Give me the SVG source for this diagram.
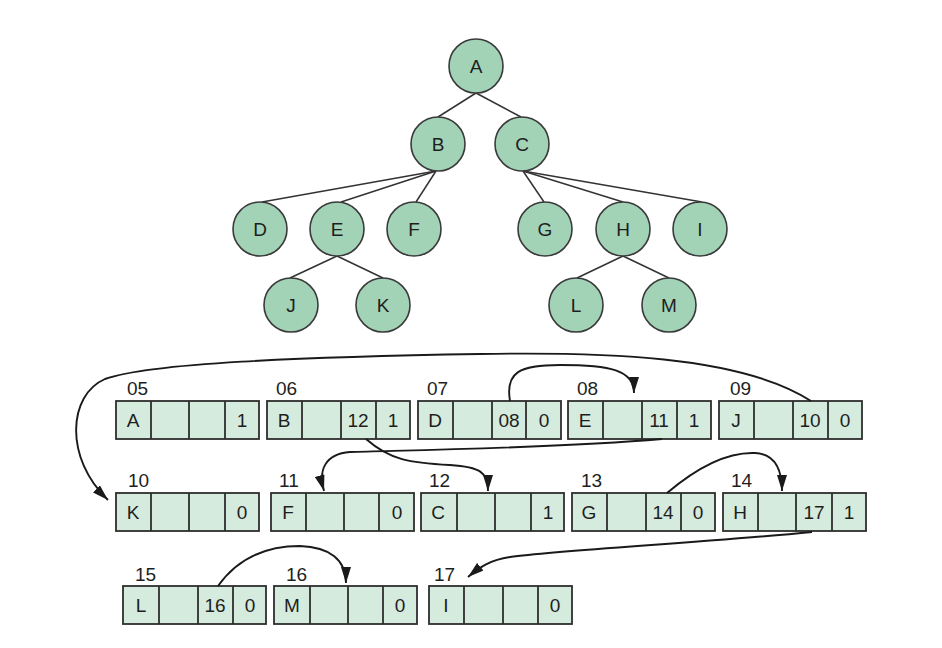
<svg xmlns="http://www.w3.org/2000/svg" width="942" height="648" viewBox="0 0 942 648">
<defs>
<style>
.n circle{fill:#a2d3b7;stroke:#3a3a3a;stroke-width:1.6}
.n text{font-family:"Liberation Sans",Arial,sans-serif;font-size:19px;fill:#1e1e1e;text-anchor:middle}
.r text{font-family:"Liberation Sans",Arial,sans-serif;font-size:19px;fill:#1e1e1e;text-anchor:middle}
.r text.lbl{font-size:19px;text-anchor:start}
.r rect{fill:#d5ebdd;stroke:#2e2e2e;stroke-width:1.8}
.r line{stroke:#2e2e2e;stroke-width:1.8}
.e line{stroke:#333;stroke-width:1.5}
.a path{fill:none;stroke:#1a1a1a;stroke-width:1.9;marker-end:url(#ah)}
</style>
<marker id="ah" viewBox="0 0 16 10" refX="16" refY="5" markerWidth="16" markerHeight="10" markerUnits="userSpaceOnUse" orient="auto">
<path d="M0,0 L16,5 L0,10 Z" fill="#1a1a1a"/>
</marker>
</defs>
<rect width="942" height="648" fill="#fff"/>
<g id="tree-edges" class="e">
<line x1="476" y1="93" x2="438" y2="117"/>
<line x1="476" y1="93" x2="521" y2="117"/>
<line x1="436" y1="171" x2="262" y2="202"/>
<line x1="436" y1="171" x2="341" y2="202"/>
<line x1="436" y1="171" x2="416" y2="202"/>
<line x1="523" y1="171" x2="544" y2="202"/>
<line x1="523" y1="171" x2="623" y2="202"/>
<line x1="523" y1="171" x2="702" y2="202"/>
<line x1="337" y1="256" x2="290" y2="278"/>
<line x1="337" y1="256" x2="383" y2="278"/>
<line x1="623" y1="256" x2="577" y2="278"/>
<line x1="623" y1="256" x2="669" y2="278"/>
</g>
<g id="node-A" class="n"><circle cx="476" cy="66" r="27"/><text x="476" y="73">A</text></g>
<g id="node-B" class="n"><circle cx="438" cy="144" r="27"/><text x="438" y="151">B</text></g>
<g id="node-C" class="n"><circle cx="522" cy="144" r="27"/><text x="522" y="151">C</text></g>
<g id="node-D" class="n"><circle cx="260" cy="229" r="27"/><text x="260" y="236">D</text></g>
<g id="node-E" class="n"><circle cx="337" cy="229" r="27"/><text x="337" y="236">E</text></g>
<g id="node-F" class="n"><circle cx="414" cy="229" r="27"/><text x="414" y="236">F</text></g>
<g id="node-G" class="n"><circle cx="545" cy="229" r="27"/><text x="545" y="236">G</text></g>
<g id="node-H" class="n"><circle cx="623" cy="229" r="27"/><text x="623" y="236">H</text></g>
<g id="node-I" class="n"><circle cx="700" cy="229" r="27"/><text x="700" y="236">I</text></g>
<g id="node-J" class="n"><circle cx="291" cy="305" r="27"/><text x="291" y="312">J</text></g>
<g id="node-K" class="n"><circle cx="383" cy="305" r="27"/><text x="383" y="312">K</text></g>
<g id="node-L" class="n"><circle cx="576" cy="305" r="27"/><text x="576" y="312">L</text></g>
<g id="node-M" class="n"><circle cx="669" cy="305" r="27"/><text x="669" y="312">M</text></g>

<g id="rec-05" class="r" transform="translate(116,401)"><rect width="143" height="38"/><line x1="35" y1="0" x2="35" y2="38"/><line x1="73" y1="0" x2="73" y2="38"/><line x1="109" y1="0" x2="109" y2="38"/><text x="17" y="26">A</text><text x="126" y="26">1</text><text class="lbl" x="11" y="-6">05</text></g>
<g id="rec-06" class="r" transform="translate(267,401)"><rect width="143" height="38"/><line x1="35" y1="0" x2="35" y2="38"/><line x1="74" y1="0" x2="74" y2="38"/><line x1="109" y1="0" x2="109" y2="38"/><text x="17" y="26">B</text><text x="91" y="26">12</text><text x="126" y="26">1</text><text class="lbl" x="9" y="-6">06</text></g>
<g id="rec-07" class="r" transform="translate(418,401)"><rect width="143" height="38"/><line x1="35" y1="0" x2="35" y2="38"/><line x1="74" y1="0" x2="74" y2="38"/><line x1="108" y1="0" x2="108" y2="38"/><text x="17" y="26">D</text><text x="91" y="26">08</text><text x="126" y="26">0</text><text class="lbl" x="9" y="-6">07</text></g>
<g id="rec-08" class="r" transform="translate(568,401)"><rect width="143" height="38"/><line x1="35" y1="0" x2="35" y2="38"/><line x1="74" y1="0" x2="74" y2="38"/><line x1="109" y1="0" x2="109" y2="38"/><text x="17" y="26">E</text><text x="91" y="26">11</text><text x="126" y="26">1</text><text class="lbl" x="9" y="-6">08</text></g>
<g id="rec-09" class="r" transform="translate(719,401)"><rect width="143" height="38"/><line x1="35" y1="0" x2="35" y2="38"/><line x1="74" y1="0" x2="74" y2="38"/><line x1="109" y1="0" x2="109" y2="38"/><text x="17" y="26">J</text><text x="91" y="26">10</text><text x="126" y="26">0</text><text class="lbl" x="11" y="-6">09</text></g>

<g id="rec-10" class="r" transform="translate(116,493)"><rect width="143" height="38"/><line x1="35" y1="0" x2="35" y2="38"/><line x1="73" y1="0" x2="73" y2="38"/><line x1="109" y1="0" x2="109" y2="38"/><text x="17" y="26">K</text><text x="126" y="26">0</text><text class="lbl" x="12" y="-6">10</text></g>
<g id="rec-11" class="r" transform="translate(271,493)"><rect width="143" height="38"/><line x1="35" y1="0" x2="35" y2="38"/><line x1="73" y1="0" x2="73" y2="38"/><line x1="108" y1="0" x2="108" y2="38"/><text x="17" y="26">F</text><text x="126" y="26">0</text><text class="lbl" x="8" y="-6">11</text></g>
<g id="rec-12" class="r" transform="translate(421,493)"><rect width="143" height="38"/><line x1="36" y1="0" x2="36" y2="38"/><line x1="74" y1="0" x2="74" y2="38"/><line x1="110" y1="0" x2="110" y2="38"/><text x="17" y="26">C</text><text x="127" y="26">1</text><text class="lbl" x="8" y="-6">12</text></g>
<g id="rec-13" class="r" transform="translate(572,493)"><rect width="143" height="38"/><line x1="35" y1="0" x2="35" y2="38"/><line x1="74" y1="0" x2="74" y2="38"/><line x1="109" y1="0" x2="109" y2="38"/><text x="17" y="26">G</text><text x="91" y="26">14</text><text x="126" y="26">0</text><text class="lbl" x="9" y="-6">13</text></g>
<g id="rec-14" class="r" transform="translate(723,493)"><rect width="143" height="38"/><line x1="35" y1="0" x2="35" y2="38"/><line x1="73" y1="0" x2="73" y2="38"/><line x1="109" y1="0" x2="109" y2="38"/><text x="17" y="26">H</text><text x="91" y="26">17</text><text x="126" y="26">1</text><text class="lbl" x="8" y="-6">14</text></g>

<g id="rec-15" class="r" transform="translate(123,586)"><rect width="143" height="38"/><line x1="36" y1="0" x2="36" y2="38"/><line x1="75" y1="0" x2="75" y2="38"/><line x1="110" y1="0" x2="110" y2="38"/><text x="18" y="26">L</text><text x="92" y="26">16</text><text x="127" y="26">0</text><text class="lbl" x="12" y="-5">15</text></g>
<g id="rec-16" class="r" transform="translate(274,586)"><rect width="143" height="38"/><line x1="36" y1="0" x2="36" y2="38"/><line x1="74" y1="0" x2="74" y2="38"/><line x1="109" y1="0" x2="109" y2="38"/><text x="18" y="26">M</text><text x="126" y="26">0</text><text class="lbl" x="12" y="-5">16</text></g>
<g id="rec-17" class="r" transform="translate(429,586)"><rect width="143" height="38"/><line x1="35" y1="0" x2="35" y2="38"/><line x1="74" y1="0" x2="74" y2="38"/><line x1="109" y1="0" x2="109" y2="38"/><text x="17" y="26">I</text><text x="126" y="26">0</text><text class="lbl" x="5" y="-5">17</text></g>

<g id="connectors" class="a">
<path d="M811,401 C740,355 600,352 480,354 C300,357 150,363 105,379 C68,395 64,458 108,500"/>
<path d="M510,401 C505,372 520,365 560,365 C610,365 634,370 634,393"/>
<path d="M366,439 C390,460 410,463 450,465 C480,467 488,472 488,491"/>
<path d="M662,439 C560,448 420,450 350,452 C325,454 318,470 324,491"/>
<path d="M667,493 C700,465 730,452 755,453 C775,454 782,470 782,491"/>
<path d="M812,532 C700,543 560,550 510,557 C490,560 480,567 468,577"/>
<path d="M218,586 C240,555 270,546 300,546 C330,547 346,560 346,583"/>
</g>
</svg>
